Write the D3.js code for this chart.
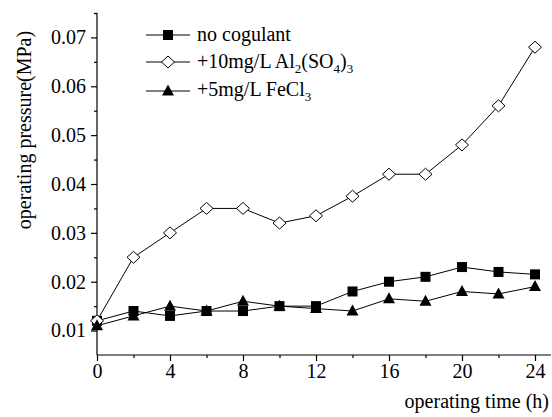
<!DOCTYPE html>
<html><head><meta charset="utf-8">
<script src="https://cdn.jsdelivr.net/npm/d3@7"></script>
<style>body{margin:0;background:#fff}svg{display:block}</style>
</head><body>
<svg id="c" width="552" height="417"></svg>
<script>
const times = [0,2,4,6,8,10,12,14,16,18,20,22,24];
const noCoagulant = [0.012,0.014,0.013,0.014,0.014,0.015,0.015,0.018,0.020,0.021,0.023,0.022,0.0215];
const alSulfate = [0.012,0.025,0.030,0.035,0.035,0.032,0.0335,0.0375,0.042,0.042,0.048,0.056,0.068];
const feChloride = [0.011,0.013,0.015,0.014,0.016,0.015,0.0145,0.014,0.0165,0.016,0.018,0.0175,0.019];
const xTicks = [0,4,8,12,16,20,24];
const yTicks = [0.01,0.02,0.03,0.04,0.05,0.06,0.07];
const FONT = '"Liberation Serif"';

const svg = d3.select("#c");
const x = d3.scaleLinear().domain([0,24]).range([97,535]);
const y = d3.scaleLinear().domain([0.005,0.075]).range([355,13]);
const xEnd = 551;

const xAxis = d3.axisBottom(x).tickValues(xTicks).tickSize(6).tickPadding(3).tickFormat(d3.format("d"));
const gx = svg.append("g").attr("transform","translate(0,355)").call(xAxis);
gx.select(".domain").attr("d",`M${x(0)},0H${xEnd}`);
const gxm = svg.append("g").attr("transform","translate(0,355)").call(d3.axisBottom(x).tickValues(d3.range(2,24,4)).tickSize(3).tickFormat(""));
gxm.select(".domain").remove();

const yAxis = d3.axisLeft(y).tickValues(yTicks).tickSize(6).tickPadding(5).tickFormat(d3.format(".2f"));
const gy = svg.append("g").attr("transform","translate(97,0)").call(yAxis);
gy.select(".domain").attr("d",`M0,${y(0.005)}V${y(0.075)}`);
const gym = svg.append("g").attr("transform","translate(97,0)").call(d3.axisLeft(y).tickValues(d3.range(0.015,0.08,0.01).concat([0.075])).tickSize(3).tickFormat(""));
gym.select(".domain").remove();
svg.selectAll(".domain, .tick line").attr("stroke","#000").attr("stroke-width",1.2);
svg.selectAll(".tick text").attr("fill","#000").style("font-family",FONT).style("font-size","20px");

svg.append("text").attr("x",549).attr("y",408).attr("text-anchor","end").style("font-family",FONT).style("font-size","20px").text("operating time (h)");
svg.append("text").attr("transform","translate(31,130) rotate(-90)").attr("text-anchor","middle").style("font-family",FONT).style("font-size","20px").text("operating pressure(MPa)");

const line = d3.line().x((d,i)=>x(times[i])).y(d=>y(d));
const series = [
 {vals:noCoagulant, sym:"square"},
 {vals:alSulfate, sym:"diamond"},
 {vals:feChloride, sym:"triangle"}
];
function marker(g, sym, cx, cy){
  if(sym==="square") g.append("rect").attr("x",cx-5).attr("y",cy-5).attr("width",10).attr("height",10).attr("fill","#000");
  else if(sym==="diamond") g.append("path").attr("d",`M${cx},${cy-6}L${cx+6.5},${cy}L${cx},${cy+6}L${cx-6.5},${cy}Z`).attr("fill","#fff").attr("stroke","#000").attr("stroke-width",1);
  else g.append("path").attr("d",`M${cx},${cy-6.5}L${cx+6},${cy+4.5}L${cx-6},${cy+4.5}Z`).attr("fill","#000");
}
series.forEach(s=>{
  svg.append("path").datum(s.vals).attr("d",line).attr("fill","none").attr("stroke","#000").attr("stroke-width",1);
});
series.forEach(s=>{
  const g = svg.append("g");
  s.vals.forEach((v,i)=>marker(g,s.sym,x(times[i]),y(v)));
});

const leg = [
 {sym:"square", y:35},
 {sym:"diamond", y:62},
 {sym:"triangle", y:91}
];
leg.forEach(l=>{
  svg.append("line").attr("x1",146).attr("x2",190).attr("y1",l.y).attr("y2",l.y).attr("stroke","#000").attr("stroke-width",1);
  marker(svg,l.sym,168,l.y);
});
function ltext(yy){ return svg.append("text").attr("x",197).attr("y",yy).style("font-family",FONT).style("font-size","20px"); }
ltext(41).text("no cogulant");
const t2 = ltext(68);
t2.append("tspan").text("+10mg/L Al");
t2.append("tspan").style("font-size","13px").attr("dy",5).text("2");
t2.append("tspan").attr("dy",-5).text("(SO");
t2.append("tspan").style("font-size","13px").attr("dy",5).text("4");
t2.append("tspan").attr("dy",-5).text(")");
t2.append("tspan").style("font-size","13px").attr("dy",5).text("3");
const t3 = ltext(96);
t3.append("tspan").text("+5mg/L FeCl");
t3.append("tspan").style("font-size","13px").attr("dy",5).text("3");
</script>
</body></html>
